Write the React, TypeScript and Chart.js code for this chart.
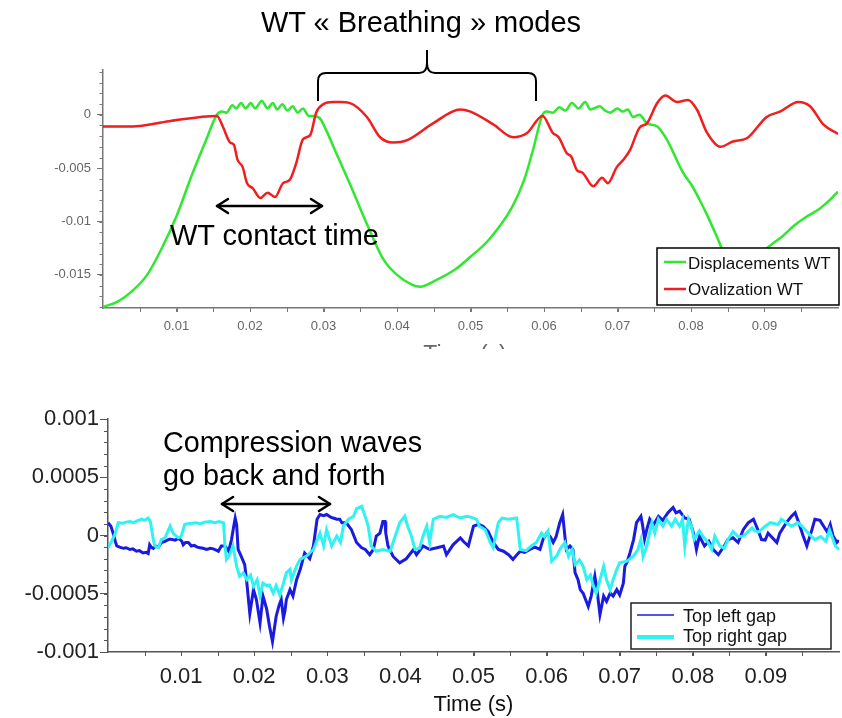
import React, { useEffect, useRef } from "react";
import { Chart, registerables } from "chart.js";

Chart.register(...registerables);

// ---------- DATA (time in ms) ----------
// Top chart: [time ms, value]
const displacementWT: [number, number][] = [
  [0, -0.018], [2, -0.0175], [4, -0.0165], [6, -0.015], [8, -0.0125], [10, -0.0095], [12, -0.0058], [14, -0.0024],
  [15.5, 0.0], [16.2, 0.0003], [16.8, 0.0002], [17.6, 0.0009], [18.1, 0.0006], [18.8, 0.0011], [19.4, 0.0006],
  [20.1, 0.0011], [20.7, 0.0006], [21.6, 0.0013], [22.4, 0.0006], [23.1, 0.0011], [23.7, 0.0005], [24.4, 0.001],
  [25.1, 0.0004], [25.8, 0.0008], [26.5, 0.0002], [27.2, 0.0006], [28.0, -0.0001], [28.8, -0.0001], [29.6, -0.0004],
  [30.2, -0.0012], [32.0, -0.004], [33.8, -0.0068], [35.7, -0.0099], [38.2, -0.0136], [40.0, -0.015], [42.0, -0.0159],
  [43.2, -0.0161], [45.0, -0.0156], [47.9, -0.0145], [50.0, -0.0133], [52.5, -0.0117], [55.7, -0.0086], [57.3, -0.0061],
  [58.5, -0.0033], [59.8, 0.0], [60.4, 0.0003], [61.2, 0.0002], [62.1, 0.0007], [62.9, 0.0004], [63.8, 0.0011],
  [64.7, 0.0006], [65.6, 0.0012], [66.3, 0.0005], [67.6, 0.0008], [68.3, 0.0004], [69.0, 0.0002], [70.0, 0.0006],
  [70.7, 0.0003], [71.4, 0.0005], [72.1, -0.0002], [73.0, 0.0], [74.0, -0.0008], [75.4, -0.0011], [76.7, -0.0023],
  [77.5, -0.0034], [78.9, -0.0054], [80.1, -0.0066], [81.2, -0.008], [82.2, -0.0094], [83.7, -0.0117], [85.0, -0.0138],
  [86.5, -0.0148], [88.0, -0.0143], [90.5, -0.0124], [92.4, -0.0114], [94.0, -0.0104], [95.6, -0.0096], [97.5, -0.0088],
  [99.0, -0.0079], [100, -0.0072],
];

const ovalizationWT: [number, number][] = [
  [0, -0.0011], [4, -0.0011], [9, -0.0006], [15.5, -0.0001], [16.3, -0.0011], [17.3, -0.0026], [17.8, -0.0028],
  [18.3, -0.0042], [19.0, -0.0049], [19.6, -0.0064], [20.4, -0.0069], [21.4, -0.0078], [22.4, -0.0073], [23.4, -0.0077],
  [24.5, -0.0064], [25.4, -0.0061], [26.3, -0.0045], [27.2, -0.0023], [28.2, -0.0019], [29.0, 0.0002], [30.0, 0.001],
  [31.3, 0.0012], [32.2, 0.0012], [33.6, 0.0011], [35.9, -0.0002], [37.7, -0.0021], [39.5, -0.0026], [41.3, -0.0024],
  [44.9, -0.0008], [48.6, 0.0005], [50.0, 0.0003], [53.1, -0.0009], [55.8, -0.0021], [57.7, -0.0017], [59.8, -0.0001],
  [61.2, -0.0017], [62.0, -0.0021], [63.1, -0.0036], [63.7, -0.0039], [64.5, -0.0052], [65.2, -0.0054], [66.7, -0.0067],
  [67.9, -0.0059], [68.7, -0.0064], [69.9, -0.0049], [70.8, -0.0042], [71.7, -0.0033], [73.0, -0.0012], [74.0, -0.0008],
  [75.4, 0.0011], [76.5, 0.0018], [78.1, 0.0012], [79.6, 0.0014], [80.8, 0.0005], [82.2, -0.0017], [84.0, -0.003],
  [85.7, -0.0025], [87.6, -0.0022], [90.3, -0.0002], [92.1, 0.0003], [94.6, 0.0012], [96.2, 0.0008], [98.0, -0.0009],
  [100, -0.0018],
];

// Bottom chart: [time ms, gap value in units of 1e-4]
const topLeftGapE4: [number, number][] = [
  [0, 1.1], [0.4, 0.8], [0.7, 0.2], [1.0, -0.5], [1.2, -0.9], [1.6, -1.0], [2.1, -1.1], [2.5, -1.05], [3.0, -1.2],
  [3.4, -1.15], [3.9, -1.35], [4.3, -1.3], [4.8, -1.5], [5.2, -1.45], [5.5, -1.55], [5.7, -0.8], [5.9, -1.0], [6.2, -1.1],
  [6.5, -0.9], [6.9, -1.0], [7.3, -0.6], [7.8, -0.5], [8.1, -0.4], [8.5, -0.3], [8.8, -0.35], [9.2, -0.4], [9.5, -0.3],
  [9.8, -0.3], [10.1, -0.5], [10.3, -0.8], [10.6, -0.6], [11.0, -0.6], [11.4, -0.9], [11.8, -0.85], [12.2, -1.0],
  [12.6, -1.05], [13.0, -1.1], [13.5, -1.2], [14.0, -1.1], [14.4, -1.15], [14.8, -1.25], [15.1, -1.35], [15.5, -0.9],
  [16.0, -0.9], [16.5, -1.35], [16.9, -0.35], [17.2, 0.8], [17.4, 1.5], [17.6, 0.9], [17.8, -1.2], [18.3, -1.9],
  [18.7, -2.5], [19.0, -4.1], [19.4, -6.7], [19.9, -4.65], [20.3, -5.5], [20.8, -7.5], [21.2, -5.2], [21.7, -6.3],
  [22.1, -7.8], [22.5, -9.1], [23.0, -6.95], [23.4, -6.0], [23.7, -5.5], [24.0, -7.1], [24.2, -6.5], [24.4, -5.5],
  [24.9, -4.65], [25.3, -5.2], [25.8, -3.8], [26.3, -2.9], [26.9, -1.5], [27.6, -2.0], [28.1, -0.9], [28.6, 1.4],
  [29.0, 1.8], [29.5, 1.7], [29.9, 1.8], [30.4, 1.6], [30.8, 1.5], [31.3, 1.4], [31.7, 1.4], [32.0, 1.1], [32.6, 1.1],
  [33.3, 0.5], [34.0, -0.6], [34.7, -1.05], [35.2, -1.2], [35.8, -1.65], [36.3, -1.2], [36.7, -0.05], [37.2, 0.2],
  [37.6, 1.2], [37.9, 1.2], [38.0, 0.2], [38.3, -0.9], [39.0, -1.8], [39.9, -2.35], [40.8, -2.0], [41.8, -1.2],
  [42.2, -1.65], [43.1, -0.9], [44.0, -1.2], [45.0, -1.05], [45.9, -0.9], [46.3, -1.65], [47.2, -0.8], [48.2, -0.2],
  [48.6, -0.5], [49.3, -0.9], [50.0, 0.8], [50.7, 0.95], [51.3, 0.8], [52.0, 0.35], [52.7, -0.6], [53.4, -1.2],
  [54.1, -1.35], [54.8, -1.65], [55.4, -2.05], [56.0, -1.6], [56.4, -1.35], [57.0, -1.45], [57.7, -1.2], [58.4, -1.0],
  [59.1, -1.2], [59.5, -0.35], [60.0, 0.2], [60.5, -0.1], [60.9, -0.6], [61.3, -0.1], [61.8, 1.1], [62.2, 1.8],
  [62.5, -0.05], [62.7, -1.2], [63.2, -0.9], [63.6, -1.2], [63.9, -3.2], [64.3, -3.8], [64.6, -4.65], [65.0, -4.95],
  [65.7, -6.1], [66.1, -5.2], [66.6, -3.5], [66.9, -4.7], [67.3, -6.8], [67.8, -5.2], [68.2, -5.65], [68.7, -4.95],
  [69.1, -5.2], [69.6, -4.65], [70.0, -5.1], [70.5, -4.1], [70.7, -2.65], [71.0, -2.3], [71.4, -1.5], [71.9, -0.35],
  [72.3, 1.1], [72.9, 1.65], [73.1, 1.0], [73.4, -0.3], [73.7, 0.5], [74.1, 1.4], [74.6, 0.9], [75.3, 1.65], [75.9, 1.3],
  [76.6, 1.95], [77.3, 2.4], [77.7, 1.95], [78.2, 2.1], [78.9, 1.5], [79.5, 1.4], [80.1, 0.2], [80.5, -1.2], [80.9, -0.05],
  [81.6, -0.9], [82.2, -0.5], [82.8, -1.2], [83.5, -1.65], [84.4, -0.8], [84.8, -0.35], [85.5, -0.2], [86.2, -0.6],
  [86.9, 0.5], [87.6, 1.1], [88.3, 1.4], [88.9, 0.5], [89.4, -0.35], [89.9, -0.4], [90.3, 0.2], [91.5, -0.6], [91.9, 0.2],
  [92.8, 1.1], [93.5, 1.65], [94.0, 1.95], [94.5, 1.1], [95.1, -0.05], [95.6, -0.9], [96.3, 0.5], [96.7, 1.4],
  [97.4, 1.3], [97.9, 0.8], [98.4, 0.3], [98.8, 0.95], [99.2, -0.05], [99.7, -0.6], [100, -0.4],
];

const topRightGapE4: [number, number][] = [
  [0, -1.05], [0.5, -0.5], [1.0, 0.2], [1.4, 1.1], [2.0, 1.05], [2.5, 1.15], [3.0, 1.2], [3.5, 1.1], [4.0, 1.25],
  [4.6, 1.4], [5.0, 1.3], [5.5, 1.5], [5.8, 1.2], [6.0, 0.4], [6.2, -0.35], [6.4, -0.9], [6.9, -1.05], [7.3, -0.35],
  [7.8, -0.2], [8.5, 0.8], [8.9, 0.2], [9.6, -0.2], [10.0, -0.1], [10.5, 0.95], [11.0, 1.0], [11.5, 1.05], [12.1, 1.1],
  [12.6, 1.0], [13.2, 1.15], [14.0, 1.2], [14.6, 1.1], [15.2, 1.2], [15.8, 1.1], [16.0, -0.9], [16.2, -2.05],
  [16.6, -1.7], [17.1, -0.9], [17.6, -2.65], [18.0, -3.5], [18.5, -3.2], [19.0, -3.8], [19.5, -3.4], [19.9, -4.35],
  [20.4, -3.8], [20.8, -5.2], [21.2, -4.1], [21.7, -4.3], [22.1, -4.25], [22.6, -4.95], [23.0, -4.3], [23.5, -5.1],
  [24.0, -4.1], [24.4, -3.2], [24.9, -2.9], [25.1, -3.8], [25.8, -2.6], [26.3, -2.05], [27.2, -1.75], [28.1, -1.2],
  [29.0, 0.2], [29.5, -0.9], [29.9, 0.5], [30.6, -0.9], [31.3, -0.05], [31.8, -0.6], [32.2, 0.8], [32.9, 1.4],
  [33.6, 1.65], [34.0, 2.3], [34.7, 2.5], [35.2, 1.6], [35.6, 0.8], [36.0, -0.9], [36.7, -1.35], [37.6, -1.2],
  [38.6, -1.35], [39.3, -0.05], [39.9, 1.1], [40.6, 1.65], [41.0, 0.8], [41.5, -0.05], [42.0, -1.2], [42.6, -1.1],
  [43.1, -0.05], [43.6, 0.8], [44.0, -0.6], [44.5, 1.4], [45.4, 1.65], [46.3, 1.55], [47.2, 1.8], [48.2, 1.5],
  [49.1, 1.65], [49.5, 1.6], [50.4, 1.4], [50.8, 0.8], [51.6, 0.5], [52.3, -0.6], [52.7, -1.05], [53.1, 0.2],
  [53.4, 1.1], [53.9, 1.5], [54.8, 1.4], [55.9, 1.5], [56.1, 0.5], [56.4, -1.2], [57.2, -1.3], [57.9, -0.9],
  [58.6, -0.6], [59.3, 0.2], [59.7, -0.1], [60.2, 0.4], [60.7, -2.2], [61.4, -1.75], [61.8, -1.2], [62.5, -0.6],
  [63.0, -1.8], [63.5, -1.2], [63.9, -2.5], [64.5, -2.1], [65.0, -2.65], [65.5, -3.8], [66.0, -3.4], [66.4, -4.35],
  [66.8, -4.95], [67.3, -3.8], [67.8, -2.65], [68.2, -3.8], [68.7, -4.65], [69.1, -3.8], [69.6, -2.9], [70.0, -2.35],
  [71.0, -2.2], [71.9, -1.75], [72.5, -1.2], [72.9, -0.35], [73.2, -1.8], [73.7, -0.9], [74.4, 1.1], [74.8, 0.2],
  [75.3, 1.4], [75.9, 0.8], [76.4, 1.4], [77.1, 0.8], [77.6, 1.4], [78.2, 0.8], [78.6, 1.4], [78.9, -0.9], [79.4, 1.4],
  [79.8, 0.8], [80.2, -0.35], [80.9, 0.4], [81.4, -0.1], [82.1, -0.6], [82.6, -1.2], [83.0, -0.05], [83.7, -0.9],
  [84.3, -1.1], [84.8, -0.35], [85.5, 0.35], [86.2, -0.1], [86.9, -0.05], [87.5, 0.3], [88.1, 0.65], [88.5, 0.4],
  [89.0, 0.3], [89.9, 0.8], [90.6, 1.1], [91.7, 0.95], [92.1, 1.4], [92.8, 1.1], [93.5, 0.8], [94.4, 1.1], [95.1, 0.7],
  [95.6, 0.35], [96.2, -0.05], [96.7, -0.35], [97.5, -0.1], [98.2, -0.5], [98.7, 0.5], [99.5, -0.9], [100, -1.2],
];

// Tick values and labels
const timeTicks = [0.01, 0.02, 0.03, 0.04, 0.05, 0.06, 0.07, 0.08, 0.09];
const timeTickLabels = ["0.01", "0.02", "0.03", "0.04", "0.05", "0.06", "0.07", "0.08", "0.09"];
const topYTicks = [-0.015, -0.01, -0.005, 0];
const topYTickLabels = ["-0.015", "-0.01", "-0.005", "0"];
const bottomYTicks = [-0.001, -0.0005, 0, 0.0005, 0.001];
const bottomYTickLabels = ["-0.001", "-0.0005", "0", "0.0005", "0.001"];

// ---------- STYLE ----------
const FONT = "Arial, 'Liberation Sans', Helvetica, sans-serif";
const GREEN = "#2fe82f";
const RED = "#f01e1e";
const BLUE = "#1a1ae0";
const CYAN = "#2ff2f2";

const toPoints = (pairs: [number, number][], k: number) =>
  pairs.map(([t, v]) => ({ x: t / 1000, y: v * k }));

function minorTicksPlugin(cfg: {
  color: string;
  xStep: number;
  xLen: number;
  yFrom: number;
  yTo: number;
  yStep: number;
  yLen: number;
}) {
  return {
    id: "minorTicks",
    afterDraw(chart: any) {
      const { ctx, chartArea } = chart;
      const xs = chart.scales.x;
      const ys = chart.scales.y;
      ctx.save();
      ctx.strokeStyle = cfg.color;
      ctx.lineWidth = 1;
      ctx.beginPath();
      const nx = Math.round((xs.max - xs.min) / cfg.xStep);
      for (let i = 1; i < nx; i++) {
        const px = Math.round(xs.getPixelForValue(xs.min + i * cfg.xStep)) + 0.5;
        ctx.moveTo(px, chartArea.bottom);
        ctx.lineTo(px, chartArea.bottom + cfg.xLen);
      }
      const ny = Math.round((cfg.yTo - cfg.yFrom) / cfg.yStep);
      for (let i = 0; i <= ny; i++) {
        const py = Math.round(ys.getPixelForValue(cfg.yFrom + i * cfg.yStep)) + 0.5;
        ctx.moveTo(chartArea.left, py);
        ctx.lineTo(chartArea.left - cfg.yLen, py);
      }
      ctx.stroke();
      ctx.restore();
    },
  };
}

const fixedTicks = (vals: number[]) => (scale: any) => {
  scale.ticks = vals.map((v) => ({ value: v }));
};

export default function App() {
  const topRef = useRef<HTMLCanvasElement | null>(null);
  const botRef = useRef<HTMLCanvasElement | null>(null);

  useEffect(() => {
    const top = new Chart(topRef.current as HTMLCanvasElement, {
      type: "line",
      data: {
        datasets: [
          {
            label: "Displacements WT",
            data: toPoints(displacementWT, 1),
            borderColor: GREEN,
            borderWidth: 2.5,
            pointRadius: 0,
            cubicInterpolationMode: "monotone",
            order: 1,
          },
          {
            label: "Ovalization WT",
            data: toPoints(ovalizationWT, 1),
            borderColor: RED,
            borderWidth: 2.5,
            pointRadius: 0,
            cubicInterpolationMode: "monotone",
            order: 0,
          },
        ],
      },
      options: {
        animation: false,
        responsive: false,
        devicePixelRatio: 1,
        layout: { padding: { left: 0, right: 4, top: 70, bottom: 0 } },
        plugins: { legend: { display: false }, tooltip: { enabled: false } },
        scales: {
          x: {
            type: "linear",
            min: 0,
            max: 0.1,
            afterBuildTicks: fixedTicks(timeTicks),
            afterFit: (s: any) => {
              s.height = 42;
            },
            grid: { display: true, drawOnChartArea: false, drawTicks: true, tickLength: 4, color: "#777" },
            border: { display: true, color: "#777", width: 1.5 },
            ticks: {
              autoSkip: false,
              maxRotation: 0,
              padding: 7,
              color: "#666",
              font: { family: FONT, size: 13 },
              callback: (_v: any, i: number) => timeTickLabels[i],
            },
          },
          y: {
            type: "linear",
            min: -0.0181,
            max: 0.0042,
            afterBuildTicks: fixedTicks(topYTicks),
            afterFit: (s: any) => {
              s.width = 103;
            },
            grid: { display: true, drawOnChartArea: false, drawTicks: true, tickLength: 6, color: "#777" },
            border: { display: true, color: "#777", width: 1.5 },
            ticks: {
              padding: 6,
              color: "#666",
              font: { family: FONT, size: 13 },
              callback: (_v: any, i: number) => topYTickLabels[i],
            },
          },
        },
      } as any,
      plugins: [
        minorTicksPlugin({ color: "#777", xStep: 0.005, xLen: 4, yFrom: -0.018, yTo: 0.004, yStep: 0.001, yLen: 3.5 }),
      ],
    });

    const bottom = new Chart(botRef.current as HTMLCanvasElement, {
      type: "line",
      data: {
        datasets: [
          {
            label: "Top left gap",
            data: toPoints(topLeftGapE4, 1e-4),
            borderColor: BLUE,
            borderWidth: 3,
            pointRadius: 0,
            tension: 0,
            order: 1,
          },
          {
            label: "Top right gap",
            data: toPoints(topRightGapE4, 1e-4),
            borderColor: CYAN,
            borderWidth: 3,
            pointRadius: 0,
            tension: 0,
            order: 0,
          },
        ],
      },
      options: {
        animation: false,
        responsive: false,
        devicePixelRatio: 1,
        layout: { padding: { left: 0, right: 3, top: 19, bottom: 0 } },
        plugins: { legend: { display: false }, tooltip: { enabled: false } },
        scales: {
          x: {
            type: "linear",
            min: 0,
            max: 0.1,
            afterBuildTicks: fixedTicks(timeTicks),
            afterFit: (s: any) => {
              s.height = 66;
            },
            grid: { display: true, drawOnChartArea: false, drawTicks: true, tickLength: 4, color: "#555" },
            border: { display: true, color: "#555", width: 1.5 },
            title: {
              display: true,
              text: "Time (s)",
              color: "#111",
              font: { family: FONT, size: 22 },
              padding: { top: 0, bottom: 0 },
            },
            ticks: {
              autoSkip: false,
              maxRotation: 0,
              padding: 8,
              color: "#222",
              font: { family: FONT, size: 22 },
              callback: (_v: any, i: number) => timeTickLabels[i],
            },
          },
          y: {
            type: "linear",
            min: -0.001,
            max: 0.001,
            afterBuildTicks: fixedTicks(bottomYTicks),
            afterFit: (s: any) => {
              s.width = 108;
            },
            grid: { display: true, drawOnChartArea: false, drawTicks: true, tickLength: 8, color: "#555" },
            border: { display: true, color: "#555", width: 1.5 },
            ticks: {
              padding: 1,
              color: "#222",
              font: { family: FONT, size: 22 },
              callback: (_v: any, i: number) => bottomYTickLabels[i],
            },
          },
        },
      } as any,
      plugins: [
        minorTicksPlugin({ color: "#555", xStep: 0.005, xLen: 4, yFrom: -0.001, yTo: 0.001, yStep: 0.0001, yLen: 4 }),
      ],
    });

    return () => {
      top.destroy();
      bottom.destroy();
    };
  }, []);

  const arrow = (x1: number, x2: number, y: number) => (
    <g stroke="#000" strokeWidth={2.5} fill="none" strokeLinecap="round" strokeLinejoin="round">
      <line x1={x1} y1={y} x2={x2} y2={y} />
      <polyline points={`${x1 + 11},${y - 7} ${x1},${y} ${x1 + 11},${y + 7}`} />
      <polyline points={`${x2 - 11},${y - 7} ${x2},${y} ${x2 - 11},${y + 7}`} />
    </g>
  );

  return (
    <div
      style={{
        position: "fixed",
        left: 0,
        top: 0,
        width: 842,
        height: 718,
        background: "#fff",
        overflow: "hidden",
      }}
    >
      <div style={{ position: "absolute", left: 0, top: 0, width: 842, height: 350 }}>
        <canvas ref={topRef} width={842} height={350} style={{ width: 842, height: 350, display: "block" }} />
      </div>
      <div style={{ position: "absolute", left: 0, top: 400, width: 842, height: 318 }}>
        <canvas ref={botRef} width={842} height={318} style={{ width: 842, height: 318, display: "block" }} />
      </div>
      <svg
        width={842}
        height={718}
        style={{ position: "absolute", left: 0, top: 0, pointerEvents: "none" }}
        fontFamily={FONT}
      >
        <defs>
          <clipPath id="cutTitle">
            <rect x={0} y={330} width={842} height={19} />
          </clipPath>
        </defs>
        {/* top chart: cut x-axis title */}
        <text x={465} y={362} fontSize={23} fill="#666" textAnchor="middle" clipPath="url(#cutTitle)">
          Time (s)
        </text>

        {/* title and brace */}
        <text x={421} y={32} fontSize={29} fill="#000" textAnchor="middle">
          WT « Breathing » modes
        </text>
        <path
          d="M318,101 L318,81 Q318,73 326,73 L419,73 Q427,73 427,63 L427,50 M427,63 Q427,73 435,73 L528,73 Q536,73 536,81 L536,101"
          stroke="#000"
          strokeWidth={2}
          fill="none"
        />

        {/* contact time annotation */}
        {arrow(217, 322, 206)}
        <text x={170} y={245} fontSize={29} fill="#000">
          WT contact time
        </text>

        {/* top legend */}
        <rect x={657} y={248} width={182} height={57} fill="#fff" stroke="#000" strokeWidth={1.5} />
        <line x1={664} y1={262} x2={686} y2={262} stroke={GREEN} strokeWidth={2.5} />
        <text x={688} y={269} fontSize={17} fill="#111">
          Displacements WT
        </text>
        <line x1={664} y1={289} x2={686} y2={289} stroke={RED} strokeWidth={2.5} />
        <text x={688} y={295} fontSize={17} fill="#111">
          Ovalization WT
        </text>

        {/* compression waves annotation */}
        <text x={163} y={452} fontSize={28.8} fill="#000">
          Compression waves
        </text>
        <text x={163} y={485} fontSize={28.8} fill="#000">
          go back and forth
        </text>
        {arrow(222, 330, 504)}

        {/* bottom legend */}
        <rect x={631} y={603} width={200} height={46} fill="#fff" stroke="#222" strokeWidth={1.5} />
        <line x1={637} y1={615} x2={674} y2={615} stroke={BLUE} strokeWidth={1.5} />
        <text x={683} y={622} fontSize={18} fill="#111">
          Top left gap
        </text>
        <line x1={637} y1={637} x2={674} y2={637} stroke={CYAN} strokeWidth={4} />
        <text x={683} y={642} fontSize={18} fill="#111">
          Top right gap
        </text>
      </svg>
    </div>
  );
}
